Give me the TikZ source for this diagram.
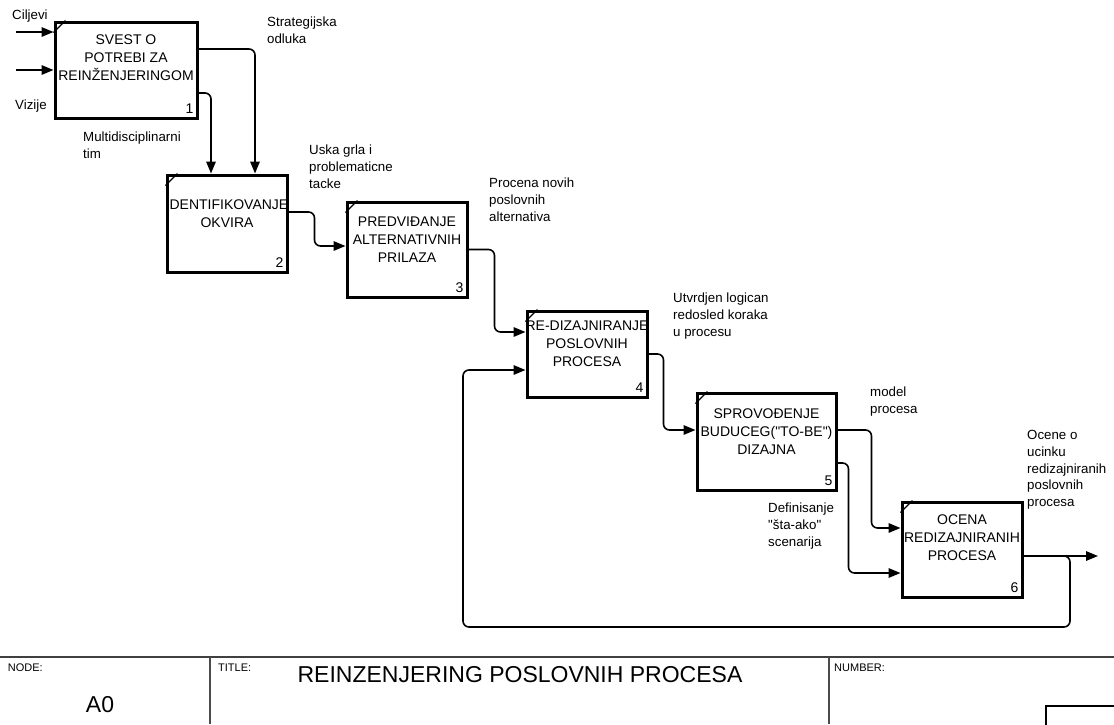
\documentclass[tikz,border=0pt]{standalone}
\usepackage{fontspec}
\setmainfont{Liberation Sans}[Ligatures=TeXOff]
\usetikzlibrary{arrows.meta}
\begin{document}
\begin{tikzpicture}[x=1pt,y=-1pt,
  box/.style={draw, line width=3pt, inner sep=0pt},
  btext/.style={font=\fontsize{14}{18}\selectfont, align=center, inner sep=0pt},
  num/.style={font=\fontsize{14}{16}\selectfont, inner sep=0pt, anchor=south east},
  lbl/.style={font=\fontsize{13.3}{16.8}\selectfont, align=left, inner sep=0pt, anchor=north west},
  flow/.style={line width=1.6pt, rounded corners=6pt, -{Triangle[length=12pt,width=9.5pt]}},
  tick/.style={line width=1.3pt},
  small/.style={font=\fontsize{11}{12}\selectfont, inner sep=0pt},
  rule/.style={draw=black!70, line width=1.8pt}
]
\useasboundingbox (0,0) rectangle (1114,724);

% activity boxes
\node[box, minimum width=142pt, minimum height=96pt] (b1) at (126,70) {};
\node[box, minimum width=120pt, minimum height=97pt] (b2) at (227,223.5) {};
\node[box, minimum width=120pt, minimum height=95pt] (b3) at (407,249.5) {};
\node[box, minimum width=120pt, minimum height=86pt] (b4) at (587,354) {};
\node[box, minimum width=139pt, minimum height=97pt] (b5) at (766.5,441.5) {};
\node[box, minimum width=120pt, minimum height=95pt] (b6) at (962,549.5) {};

% corner ticks
\foreach \b in {b1,b2,b3,b4,b5,b6}{
  \draw[tick] ([yshift=-12pt]\b.north west) -- ([xshift=12pt]\b.north west);
}

% box texts
\node[btext] (t1) at (126,57.5) {SVEST O\\POTREBI ZA\\REINŽENJERINGOM};
\node[btext] (t2) at (227,213.5) {IDENTIFIKOVANJE\\OKVIRA};
\node[btext] (t3) at (407,240) {PREDVIĐANJE\\ALTERNATIVNIH\\PRILAZA};
\node[btext] (t4) at (587,343.5) {RE-DIZAJNIRANJE\\POSLOVNIH\\PROCESA};
\node[btext] (t5) at (766.5,431.5) {SPROVOĐENJE\\BUDUCEG("TO-BE")\\DIZAJNA};
\node[btext] (t6) at (962,538) {OCENA\\REDIZAJNIRANIH\\PROCESA};

% box numbers
\node[num] (n1) at ([xshift=-5pt,yshift=5.5pt]b1.south east) {1};
\node[num] (n2) at ([xshift=-5pt,yshift=5.5pt]b2.south east) {2};
\node[num] (n3) at ([xshift=-5pt,yshift=5.5pt]b3.south east) {3};
\node[num] (n4) at ([xshift=-5pt,yshift=5.5pt]b4.south east) {4};
\node[num] (n5) at ([xshift=-5pt,yshift=5.5pt]b5.south east) {5};
\node[num] (n6) at ([xshift=-5pt,yshift=5.5pt]b6.south east) {6};

% inputs
\coordinate (in1) at (16,32);
\coordinate (in2) at (16,70);
\draw[flow] (in1) -- (in1 -| b1.west);
\draw[flow] (in2) -- (in2 -| b1.west);

% connectors
\draw[flow] ([yshift=21pt]b1.east) -| ([xshift=28pt]b2.north);
\draw[flow] ([yshift=-23pt]b1.east) -| ([xshift=-16pt]b2.north);
\draw[flow] ([yshift=11.5pt]b2.east) -- ++(26,0) |- ([yshift=3.5pt]b3.west);
\draw[flow] (b3.east) -- ++(26,0) |- ([yshift=22pt]b4.west);
\draw[flow] (b4.east) -- ++(15,0) |- ([yshift=11.5pt]b5.west);
\draw[flow] ([yshift=11.5pt]b5.east) -- ++(34,0) |- ([yshift=21.5pt]b6.west);
\draw[flow] ([yshift=-21.5pt]b5.east) -- ++(11,0) |- ([yshift=-23.5pt]b6.west);

% output and feedback
\coordinate (out) at (1098,556);
\coordinate (j) at (1064,556);
\coordinate (fb1) at (1070,627);
\coordinate (fb2) at (463,627);
\draw[flow] ([yshift=-6.5pt]b6.east) -- (out);
\draw[flow] (j) -| (fb1) -- (fb2) |- ([yshift=-16pt]b4.west);

% labels
\node[lbl] (lc) at (12,10) {Ciljevi};
\node[lbl] (lv) at (15,100) {Vizije};
\node[lbl] (ls) at (267,17) {Strategijska\\odluka};
\node[lbl] (lm) at (83,132) {Multidisciplinarni\\tim};
\node[lbl] (lu) at (309,145) {Uska grla i\\problematicne\\tacke};
\node[lbl] (lp) at (489,178) {Procena novih\\poslovnih\\alternativa};
\node[lbl] (lr) at (673,293) {Utvrdjen logican\\redosled koraka\\u procesu};
\node[lbl] (lmo) at (870,387) {model\\procesa};
\node[lbl] (lo) at (1027,430) {Ocene o\\ucinku\\redizajniranih\\poslovnih\\procesa};
\node[lbl] (ld) at (768,503) {Definisanje\\"šta-ako"\\scenarija};

% title block
\draw[draw=black!75, line width=2.2pt] (0,657) -- (1114,657);
\draw[rule] (210,657) -- (210,724);
\draw[rule] (829,657) -- (829,724);
\node[small, anchor=east] (node) at (43,668) {NODE:};
\node[small, anchor=west] (tit) at (218,668) {TITLE:};
\node[small, anchor=west] (numb) at (834,668) {NUMBER:};
\node[font=\fontsize{23}{26}\selectfont, inner sep=0pt] (title) at (520,675) {REINZENJERING POSLOVNIH PROCESA};
\node[font=\fontsize{23}{26}\selectfont, inner sep=0pt] (a0) at (100,705) {A0};
\draw[line width=1.2pt] (1046,730) -- (1046,706) -- (1120,706);
\end{tikzpicture}
\end{document}
